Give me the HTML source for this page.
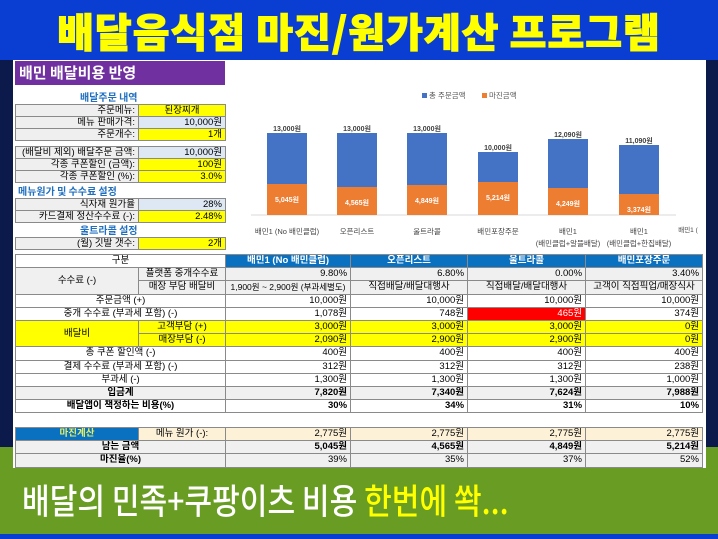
<!DOCTYPE html>
<html><head><meta charset="utf-8">
<style>
*{margin:0;padding:0;box-sizing:border-box}
body{width:718px;height:539px;overflow:hidden;position:relative;background:#0b1a4a;font-family:"Liberation Sans","Noto Sans CJK KR",sans-serif;}
.a{position:absolute}
#top{left:0;top:0;width:718px;height:60px;background:#0a3ed2}
#title{left:0;top:4px;width:718px;text-align:center;font-size:40px;font-weight:900;color:#ffff00;font-family:"Noto Sans CJK KR",sans-serif;letter-spacing:1px;-webkit-text-stroke:1px #ffff00;line-height:52px}
#green{left:0;top:447px;width:718px;height:88px;background:#689c22}
#bot{left:0;top:534px;width:718px;height:5px;background:#0a3ed2}
#sheet{left:13px;top:60px;width:693px;height:408px;background:#fff}
#btxt{left:22px;top:474px;font-size:35px;font-weight:500;color:#fff;font-family:"Noto Sans CJK KR",sans-serif;line-height:52px;transform:scaleX(0.86);transform-origin:0 0;white-space:nowrap}
#btxt span{color:#ffff00}
#ph{left:15px;top:61px;width:210px;height:24px;background:#7030a0;color:#fff;font-size:15px;font-weight:700;padding-left:4px;line-height:24px;font-family:"Noto Sans CJK KR",sans-serif}
.sec{font-size:10px;font-weight:700;color:#1f6fc0;font-family:"Noto Sans CJK KR",sans-serif;line-height:12px}
table{border-collapse:collapse;font-size:9.5px;font-family:"Liberation Sans","Noto Sans CJK KR",sans-serif;table-layout:fixed}
td{border:1px solid #8a8a8a;padding:0 3px;white-space:nowrap;overflow:hidden;line-height:10px}
.f td{height:12px}
.l{background:#efefef;text-align:right}
.y{background:#ffff00;text-align:right}
.yc{background:#ffff00;text-align:center}
.bl{background:#dde8f4;text-align:right}
.r{text-align:right}.c{text-align:center}
.m td{height:13.2px}
.h{background:#0a70c0;color:#fff;text-align:center;font-weight:700}
.g{background:#f0f0f0}
.b{font-weight:700}
.be{background:#fdf1d8}
</style></head><body>
<div id="top" class="a"></div>
<div id="title" class="a">배달음식점 마진/원가계산 프로그램</div>
<div id="green" class="a"></div>
<div id="bot" class="a"></div>
<div id="sheet" class="a"></div>
<div id="ph" class="a">배민 배달비용 반영</div>
<div class="a sec" style="left:80px;top:91px">배달주문 내역</div>
<table class="a f" style="left:15px;top:104px;width:210px"><colgroup><col style="width:123px"><col style="width:87px"></colgroup>
<tr><td class="l">주문메뉴:</td><td class="yc">된장찌개</td></tr>
<tr><td class="l">메뉴 판매가격:</td><td class="bl">10,000원</td></tr>
<tr><td class="l">주문개수:</td><td class="y">1개</td></tr></table>
<table class="a f" style="left:15px;top:146px;width:210px"><colgroup><col style="width:123px"><col style="width:87px"></colgroup>
<tr><td class="l">(배달비 제외) 배달주문 금액:</td><td class="bl">10,000원</td></tr>
<tr><td class="l">각종 쿠폰할인 (금액):</td><td class="y">100원</td></tr>
<tr><td class="l">각종 쿠폰할인 (%):</td><td class="y">3.0%</td></tr></table>
<div class="a sec" style="left:18px;top:185px">메뉴원가 및 수수료 설정</div>
<table class="a f" style="left:15px;top:198px;width:210px"><colgroup><col style="width:123px"><col style="width:87px"></colgroup>
<tr><td class="l">식자재 원가율</td><td class="bl">28%</td></tr>
<tr><td class="l">카드결제 정산수수료 (-):</td><td class="y">2.48%</td></tr></table>
<div class="a sec" style="left:80px;top:224px">울트라콜 설정</div>
<table class="a f" style="left:15px;top:237px;width:210px"><colgroup><col style="width:123px"><col style="width:87px"></colgroup>
<tr><td class="l">(월) 깃발 갯수:</td><td class="y">2개</td></tr></table>

<svg class="a" style="left:230px;top:60px" width="476" height="192" font-family="Liberation Sans, Noto Sans CJK KR, sans-serif">
<rect x="192" y="33" width="5" height="5" fill="#4472c4"/><text x="199" y="38" font-size="7.5" fill="#555">총 주문금액</text>
<rect x="252" y="33" width="5" height="5" fill="#ed7d31"/><text x="259" y="38" font-size="7.5" fill="#555">마진금액</text>
<line x1="21" y1="155" x2="446" y2="155" stroke="#d9d9d9"/>
<g fill="#4472c4">
<rect x="37" y="73" width="40" height="82"/><rect x="107" y="73" width="40" height="82"/><rect x="177" y="73" width="40" height="82"/>
<rect x="248" y="92" width="40" height="63"/><rect x="318" y="79" width="40" height="76"/><rect x="389" y="85" width="40" height="70"/></g>
<g fill="#ed7d31">
<rect x="37" y="124" width="40" height="31"/><rect x="107" y="127" width="40" height="28"/><rect x="177" y="125" width="40" height="30"/>
<rect x="248" y="122" width="40" height="33"/><rect x="318" y="128" width="40" height="27"/><rect x="389" y="134" width="40" height="21"/></g>
<g font-size="7" font-weight="700" fill="#404040" text-anchor="middle">
<text x="57" y="71">13,000원</text><text x="127" y="71">13,000원</text><text x="197" y="71">13,000원</text>
<text x="268" y="90">10,000원</text><text x="338" y="77">12,090원</text><text x="409" y="83">11,090원</text></g>
<g font-size="7" font-weight="700" fill="#fff" text-anchor="middle">
<text x="57" y="142">5,045원</text><text x="127" y="145">4,565원</text><text x="197" y="143">4,849원</text>
<text x="268" y="140">5,214원</text><text x="338" y="146">4,249원</text><text x="409" y="152">3,374원</text></g>
<g font-size="7.5" fill="#444" text-anchor="middle">
<text x="57" y="174">배민1 (No 배민클럽)</text><text x="127" y="174">오픈리스트</text><text x="197" y="174">울트라콜</text>
<text x="268" y="174">배민포장주문</text><text x="338" y="174">배민1</text><text x="338" y="186">(배민클럽+알뜰배달)</text>
<text x="409" y="174">배민1</text><text x="409" y="186">(배민클럽+한집배달)</text>
<text x="458" y="172" font-size="6.5">배민1 (</text></g>
</svg>

<table class="a m" style="left:15px;top:254px;width:687px"><colgroup><col style="width:123px"><col style="width:87px"><col style="width:125px"><col style="width:117px"><col style="width:118px"><col style="width:117px"></colgroup>
<tr><td colspan="2" class="c">구분</td><td class="h">배민1 (No 배민클럽)</td><td class="h">오픈리스트</td><td class="h">울트라콜</td><td class="h">배민포장주문</td></tr>
<tr><td rowspan="2" class="c g">수수료 (-)</td><td class="c g">플랫폼 중개수수료</td><td class="r g">9.80%</td><td class="r g">6.80%</td><td class="r g">0.00%</td><td class="r g">3.40%</td></tr>
<tr><td class="c g">매장 부담 배달비</td><td class="c g" style="font-size:8.5px;padding:0 1px">1,900원 ~ 2,900원 (부과세별도)</td><td class="c g">직접배달/배달대행사</td><td class="c g">직접배달/배달대행사</td><td class="c g">고객이 직접픽업/매장식사</td></tr>
<tr><td colspan="2" class="c">주문금액 (+)</td><td class="r">10,000원</td><td class="r">10,000원</td><td class="r">10,000원</td><td class="r">10,000원</td></tr>
<tr><td colspan="2" class="c">중개 수수료 (부과세 포함) (-)</td><td class="r">1,078원</td><td class="r">748원</td><td class="r" style="background:#ff0000;color:#fff">465원</td><td class="r">374원</td></tr>
<tr><td rowspan="2" class="yc">배달비</td><td class="yc">고객부담 (+)</td><td class="y">3,000원</td><td class="y">3,000원</td><td class="y">3,000원</td><td class="y">0원</td></tr>
<tr><td class="yc">매장부담 (-)</td><td class="y">2,090원</td><td class="y">2,900원</td><td class="y">2,900원</td><td class="y">0원</td></tr>
<tr><td colspan="2" class="c">총 쿠폰 할인액 (-)</td><td class="r">400원</td><td class="r">400원</td><td class="r">400원</td><td class="r">400원</td></tr>
<tr><td colspan="2" class="c">결제 수수료 (부과세 포함) (-)</td><td class="r">312원</td><td class="r">312원</td><td class="r">312원</td><td class="r">238원</td></tr>
<tr><td colspan="2" class="c">부과세 (-)</td><td class="r">1,300원</td><td class="r">1,300원</td><td class="r">1,300원</td><td class="r">1,000원</td></tr>
<tr class="b g"><td colspan="2" class="c">입금계</td><td class="r">7,820원</td><td class="r">7,340원</td><td class="r">7,624원</td><td class="r">7,988원</td></tr>
<tr class="b"><td colspan="2" class="c">배달앱이 책정하는 비용(%)</td><td class="r">30%</td><td class="r">34%</td><td class="r">31%</td><td class="r">10%</td></tr>
</table>

<table class="a m" style="left:15px;top:427px;width:687px"><colgroup><col style="width:123px"><col style="width:87px"><col style="width:125px"><col style="width:117px"><col style="width:118px"><col style="width:117px"></colgroup>
<tr><td class="c b" style="background:#0a70c0;color:#e6f060">마진계산</td><td class="c be">메뉴 원가 (-):</td><td class="r be">2,775원</td><td class="r be">2,775원</td><td class="r be">2,775원</td><td class="r be">2,775원</td></tr>
<tr class="b g"><td colspan="2" class="c">남는 금액</td><td class="r">5,045원</td><td class="r">4,565원</td><td class="r">4,849원</td><td class="r">5,214원</td></tr>
<tr class="g"><td colspan="2" class="c b">마진율(%)</td><td class="r">39%</td><td class="r">35%</td><td class="r">37%</td><td class="r">52%</td></tr>
</table>
<div id="btxt" class="a">배달의 민족+쿠팡이츠 비용 <span>한번에 쏵...</span></div>
</body></html>
